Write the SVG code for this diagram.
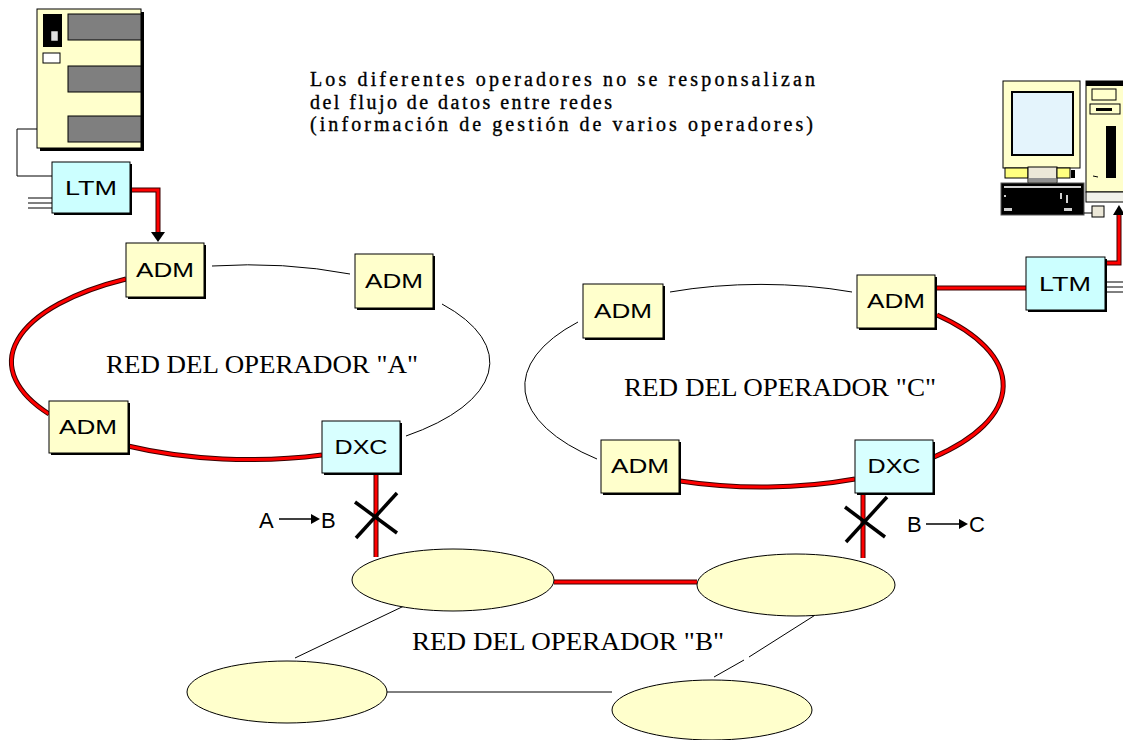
<svg xmlns="http://www.w3.org/2000/svg" xmlns:xlink="http://www.w3.org/1999/xlink" width="1123" height="740" viewBox="0 0 1123 740">
  <style>
    .box { stroke: #000; stroke-width: 1; }
    .yel { fill: #ffffcc; }
    .cyan { fill: #ccffff; }
    .shadow { fill: #000; }
    .lbl { font-family: "Liberation Sans", Arial, sans-serif; font-size: 20px; fill: #000; text-anchor: middle; }
    .ring { font-family: "Liberation Serif", "Times New Roman", serif; font-size: 26px; fill: #000; }
    .title { font-family: "Liberation Serif", "Times New Roman", serif; font-size: 20px; fill: #000; stroke: #000; stroke-width: 0.35; }
    .flow { font-family: "Liberation Sans", Arial, sans-serif; font-size: 22px; fill: #000; }
    .thin { fill: none; stroke: #000; stroke-width: 1; }
    .redOut { fill: none; stroke: #3a0000; stroke-width: 5; }
    .redIn { fill: none; stroke: #ff0000; stroke-width: 3; }
    .cross { stroke: #000; stroke-width: 3.5; }
    .ell { fill: #ffffcc; stroke: #000; stroke-width: 1; }
  </style>
  <defs>
    <path id="r1" d="M130,190 H158 V233"/>
    <path id="r2" d="M126,279 A239,97 0 0 0 49,414"/>
    <path id="r3" d="M128,446 A239,97 0 0 0 322,455"/>
    <path id="r4" d="M376,473 V557"/>
    <path id="r5" d="M554,582 H697"/>
    <path id="r6" d="M863,493 V558"/>
    <path id="r7" d="M680,481 A240,102 0 0 0 855,479"/>
    <path id="r8" d="M937,315 A240,102 0 0 1 934,457"/>
    <path id="r9" d="M935,288 H1026"/>
    <path id="r10" d="M1105,263 H1119 V214"/>
  </defs>

  <rect width="1123" height="740" fill="#fff"/>

  <!-- title -->
  <g id="title">
    <text class="title" x="310" y="86" textLength="505" lengthAdjust="spacing">Los diferentes operadores no se responsalizan</text>
    <text class="title" x="310" y="108.5" textLength="302" lengthAdjust="spacing">del flujo de datos entre redes</text>
    <text class="title" x="310" y="131" textLength="503" lengthAdjust="spacing">(información de gestión de varios operadores)</text>
  </g>

  <!-- connectors -->
  <g id="connectors">
    <path class="thin" d="M37,129 H17 V176 H52" stroke="#333"/>
    <path class="thin" d="M28,198 H52 M28,203 H52 M28,208 H52"/>
    <path class="thin" d="M1105,282 H1123 M1105,287 H1123 M1105,292 H1123"/>
    <path class="thin" d="M212,266 A239,97 0 0 1 350,274"/>
    <path class="thin" d="M442,304 A239,97 0 0 1 406,436"/>
    <path class="thin" d="M670,292 A240,102 0 0 1 852,292"/>
    <path class="thin" d="M578,322 A240,102 0 0 0 597,459"/>
    <path class="thin" d="M404,606 L295,658"/>
    <path class="thin" d="M820,612 L749,657 M744,660 L714,677"/>
    <path class="thin" d="M387,692 H612"/>
    <use xlink:href="#r1" class="redOut"/><use xlink:href="#r1" class="redIn"/>
    <use xlink:href="#r2" class="redOut"/><use xlink:href="#r2" class="redIn"/>
    <use xlink:href="#r3" class="redOut"/><use xlink:href="#r3" class="redIn"/>
    <use xlink:href="#r4" class="redOut"/><use xlink:href="#r4" class="redIn"/>
    <use xlink:href="#r5" class="redOut"/><use xlink:href="#r5" class="redIn"/>
    <use xlink:href="#r6" class="redOut"/><use xlink:href="#r6" class="redIn"/>
    <use xlink:href="#r7" class="redOut"/><use xlink:href="#r7" class="redIn"/>
    <use xlink:href="#r8" class="redOut"/><use xlink:href="#r8" class="redIn"/>
    <use xlink:href="#r9" class="redOut"/><use xlink:href="#r9" class="redIn"/>
    <use xlink:href="#r10" class="redOut"/><use xlink:href="#r10" class="redIn"/>
    <polygon points="151,232 165,232 158,242" fill="#000"/>
    <polygon points="1113,215 1125,215 1119,205" fill="#000"/>
    <!-- cut links -->
    <line class="cross" x1="355" y1="502" x2="397" y2="533"/>
    <line class="cross" x1="397" y1="493" x2="356" y2="538"/>
    <line class="cross" x1="845" y1="507" x2="885" y2="537"/>
    <line class="cross" x1="887" y1="497" x2="846" y2="542"/>
  </g>

  <!-- flow labels -->
  <g id="flow-ab">
    <text class="flow" x="259" y="528">A</text>
    <line x1="279" y1="519" x2="312" y2="519" stroke="#000" stroke-width="1.5"/>
    <polygon points="311,514 320,519 311,524" fill="#000"/>
    <text class="flow" x="321" y="528">B</text>
  </g>
  <g id="flow-bc">
    <text class="flow" x="907" y="532">B</text>
    <line x1="926" y1="524" x2="960" y2="524" stroke="#000" stroke-width="1.5"/>
    <polygon points="959,519 968,524 959,529" fill="#000"/>
    <text class="flow" x="969" y="532">C</text>
  </g>

  <!-- server -->
  <g id="server">
    <rect x="40" y="12" width="104" height="139" fill="#000"/>
    <rect class="box" x="37" y="9" width="104" height="139" fill="#ffffcc"/>
    <rect x="43" y="14" width="19" height="33" fill="#000"/>
    <rect x="51" y="31" width="7" height="10" fill="#e0e0e0" stroke="#000" stroke-width="0.5"/>
    <rect class="box" x="43" y="53" width="17" height="10" fill="#fff"/>
    <rect class="box" x="68" y="14" width="73" height="26" fill="#7f7f7f"/>
    <rect class="box" x="68" y="66" width="73" height="26" fill="#7f7f7f"/>
    <rect class="box" x="68" y="116" width="73" height="26" fill="#7f7f7f"/>
  </g>

  <!-- workstation -->
  <g id="workstation">
    <rect class="box" x="1003" y="81" width="77" height="87" fill="#ffffcc"/>
    <rect x="1012" y="92" width="61" height="63" fill="#e4f4fc" stroke="#000" stroke-width="2"/>
    <rect class="box" x="1005" y="168" width="23" height="10" fill="#ffff80"/>
    <rect class="box" x="1028" y="167" width="29" height="16" fill="#ece8d8"/>
    <rect x="1029" y="178" width="27" height="4" fill="#909090"/>
    <rect class="box" x="1057" y="168" width="13" height="10" fill="#ffff80"/>
    <rect x="1071" y="170" width="4" height="8" fill="#000"/>
    <rect x="1001" y="183" width="83" height="32" fill="#000" stroke="#555" stroke-width="1"/>
    <rect x="1004" y="186" width="77" height="2" fill="#d0d0d0"/>
    <rect x="1004" y="208" width="8" height="3" fill="#d0d0d0"/>
    <rect x="1064" y="208" width="8" height="3" fill="#d0d0d0"/>
    <rect x="1060" y="193" width="2" height="6" fill="#d0d0d0"/>
    <rect x="1066" y="195" width="2" height="8" fill="#d0d0d0"/>
    <rect x="1004" y="195" width="2" height="2" fill="#d0d0d0"/>
    <line x1="1084" y1="213" x2="1092" y2="213" stroke="#000"/>
    <rect class="box" x="1092" y="206" width="12" height="11" fill="#ece8d8"/>
    <rect class="box" x="1086" y="81" width="40" height="111" fill="#ffffcc"/>
    <rect x="1086" y="81" width="40" height="5" fill="#000"/>
    <rect class="box" x="1092" y="89" width="24" height="11" fill="#ffffcc"/>
    <rect class="box" x="1090" y="104" width="30" height="10" fill="#ffffcc"/>
    <rect x="1096" y="108" width="16" height="3" fill="#000"/>
    <rect x="1106" y="126" width="10" height="52" fill="#000"/>
    <line x1="1093" y1="176" x2="1098" y2="177" stroke="#000"/>
    <rect class="box" x="1086" y="192" width="40" height="10" fill="#f2f2ea"/>
  </g>

  <!-- ring A -->
  <g id="ltm-a">
    <rect class="shadow" x="54" y="164" width="78" height="51"/>
    <rect class="box cyan" x="52" y="162" width="78" height="51"/>
    <text class="lbl" x="91" y="195" textLength="52" lengthAdjust="spacingAndGlyphs">LTM</text>
  </g>
  <g id="adm-a1">
    <rect class="shadow" x="128" y="245" width="78" height="54"/>
    <rect class="box yel" x="126" y="243" width="78" height="54"/>
    <text class="lbl" x="165" y="277" textLength="58" lengthAdjust="spacingAndGlyphs">ADM</text>
  </g>
  <g id="adm-a2">
    <rect class="shadow" x="357" y="256" width="78" height="54"/>
    <rect class="box yel" x="355" y="254" width="78" height="54"/>
    <text class="lbl" x="394" y="288" textLength="58" lengthAdjust="spacingAndGlyphs">ADM</text>
  </g>
  <g id="adm-a3">
    <rect class="shadow" x="51" y="403" width="79" height="52"/>
    <rect class="box yel" x="49" y="401" width="79" height="52"/>
    <text class="lbl" x="88" y="434" textLength="58" lengthAdjust="spacingAndGlyphs">ADM</text>
  </g>
  <g id="dxc-a">
    <rect class="shadow" x="324" y="423" width="78" height="52"/>
    <rect class="box" x="322" y="421" width="78" height="52" fill="#d8ffff"/>
    <text class="lbl" x="361" y="454" textLength="53" lengthAdjust="spacingAndGlyphs">DXC</text>
  </g>
  <text class="ring" x="106" y="373" textLength="312" lengthAdjust="spacingAndGlyphs">RED DEL OPERADOR "A"</text>

  <!-- ring C -->
  <g id="adm-c1">
    <rect class="shadow" x="585" y="286" width="80" height="54"/>
    <rect class="box yel" x="583" y="284" width="80" height="54"/>
    <text class="lbl" x="623" y="318" textLength="58" lengthAdjust="spacingAndGlyphs">ADM</text>
  </g>
  <g id="adm-c2">
    <rect class="shadow" x="859" y="277" width="78" height="53"/>
    <rect class="box yel" x="857" y="275" width="78" height="53"/>
    <text class="lbl" x="896" y="308" textLength="58" lengthAdjust="spacingAndGlyphs">ADM</text>
  </g>
  <g id="adm-c3">
    <rect class="shadow" x="603" y="442" width="78" height="53"/>
    <rect class="box yel" x="601" y="440" width="78" height="53"/>
    <text class="lbl" x="640" y="473" textLength="58" lengthAdjust="spacingAndGlyphs">ADM</text>
  </g>
  <g id="dxc-c">
    <rect class="shadow" x="857" y="442" width="78" height="53"/>
    <rect class="box" x="855" y="440" width="78" height="53" fill="#d8ffff"/>
    <text class="lbl" x="894" y="473" textLength="53" lengthAdjust="spacingAndGlyphs">DXC</text>
  </g>
  <g id="ltm-c">
    <rect class="shadow" x="1028" y="259" width="79" height="53"/>
    <rect class="box cyan" x="1026" y="257" width="79" height="53"/>
    <text class="lbl" x="1065" y="291" textLength="52" lengthAdjust="spacingAndGlyphs">LTM</text>
  </g>
  <text class="ring" x="624" y="396" textLength="312" lengthAdjust="spacingAndGlyphs">RED DEL OPERADOR "C"</text>

  <!-- ring B -->
  <g id="node-b1"><ellipse class="ell" cx="453" cy="580" rx="101" ry="31"/></g>
  <g id="node-b2"><ellipse class="ell" cx="796" cy="585" rx="99" ry="31"/></g>
  <g id="node-b3"><ellipse class="ell" cx="287" cy="692" rx="100" ry="31"/></g>
  <g id="node-b4"><ellipse class="ell" cx="712" cy="710" rx="100" ry="30"/></g>
  <text class="ring" x="412" y="650" font-size="28" textLength="312" lengthAdjust="spacingAndGlyphs">RED DEL OPERADOR "B"</text>
</svg>
